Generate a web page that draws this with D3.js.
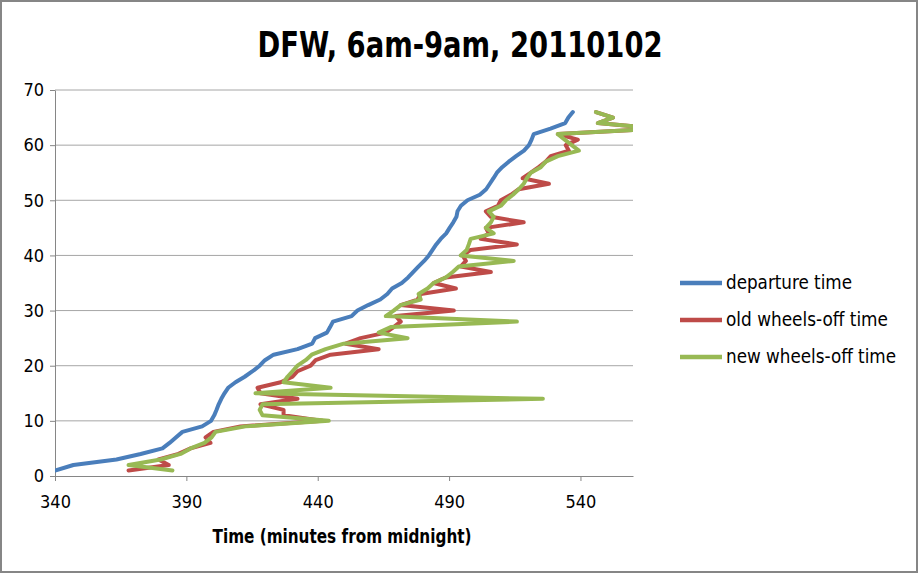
<!DOCTYPE html>
<html>
<head>
<meta charset="utf-8">
<script src="https://cdn.jsdelivr.net/npm/d3@7"></script>
<style>
  body { margin: 0; background: #fff; }
  svg text { font-family: "Liberation Sans Narrow", "DejaVu Sans Condensed", sans-serif; fill: #000; }
</style>
</head>
<body>
<div class="canvas"></div>
<script>
// flight number (cumulative count) on the y axis
const flightNo = [
  1, 2, 3, 4, 5, 6, 7, 8, 9, 10, 11, 12, 13, 14, 15, 16, 17, 18, 19, 20, 21, 22,
  23, 24, 25, 26, 27, 28, 29, 30, 31, 32, 33, 34, 35, 36, 37, 38, 39, 40, 41, 42, 43, 44,
  45, 46, 47, 48, 49, 50, 51, 52, 53, 54, 55, 56, 57, 58, 59, 60, 61, 62, 63, 64, 65, 66
];

// minutes from midnight
const departure = [
  340.0, 347.0, 363.4, 372.6, 380.9, 383.6, 386.0, 388.5, 396.0, 399.4,
  400.6, 401.5, 402.3, 403.3, 404.5, 405.9, 408.7, 412.2, 415.2, 417.9,
  419.9, 423.2, 432.3, 437.9, 439.0, 443.5, 444.7, 445.8, 452.9, 455.1,
  459.2, 463.8, 466.5, 468.3, 472.0, 474.4, 476.4, 478.4, 480.5, 482.3,
  483.7, 485.1, 486.8, 488.9, 490.2, 491.6, 492.8, 493.2, 494.5, 497.0,
  501.7, 504.1, 505.5, 506.9, 508.2, 510.2, 512.7, 515.5, 518.5, 520.4,
  521.4, 522.2, 528.6, 534.2, 535.4, 537.1
];

const oldWheelsOff = [
  368.0, 383.3, 379.4, 387.0, 391.6, 399.2, 397.3, 400.3, 410.6, 442.0,
  427.0, 427.0, 418.2, 432.3, 418.2, 417.1, 425.9, 430.4, 432.3, 437.3,
  439.2, 444.9, 463.2, 450.6, 456.3, 465.9, 468.9, 471.6, 469.7, 491.8,
  471.6, 478.0, 479.2, 492.6, 484.1, 488.7, 505.9, 494.5, 496.4, 495.2,
  498.2, 515.8, 502.0, 505.1, 504.0, 518.4, 505.9, 504.0, 508.6, 509.7,
  513.5, 516.5, 528.0, 518.0, 521.1, 524.1, 526.8, 528.7, 535.6, 534.4,
  539.0, 531.4, 570.6, 546.6, 552.4, 545.9
];

const newWheelsOff = [
  384.7, 368.0, 380.2, 387.8, 391.6, 396.9, 399.6, 401.1, 412.5, 444.2,
  419.0, 417.9, 419.0, 525.7, 416.3, 444.9, 427.0, 428.5, 430.4, 432.3,
  435.4, 437.7, 443.0, 449.9, 474.2, 463.2, 467.8, 515.8, 465.9, 468.9,
  471.6, 479.2, 478.4, 481.8, 484.1, 488.7, 491.4, 493.7, 514.6, 494.4,
  496.7, 497.5, 498.2, 507.0, 504.0, 505.9, 507.0, 505.1, 509.7, 511.6,
  514.3, 516.5, 518.4, 519.6, 521.1, 524.9, 526.8, 531.4, 539.4, 536.7,
  534.0, 531.4, 570.6, 546.6, 552.4, 545.9
];

const seriesNames = ['departure time', 'old wheels-off time', 'new wheels-off time'];
const seriesColors = ['#4a7ebb', '#be4b48', '#98b954'];
const xTicks = [340, 390, 440, 490, 540];
const yTicks = [0, 10, 20, 30, 40, 50, 60, 70];

const series = [departure, oldWheelsOff, newWheelsOff].map((vals, i) => ({
  name: seriesNames[i],
  color: seriesColors[i],
  points: vals.map((v, j) => ({ t: v, n: flightNo[j] }))
}));

const dims = { width: 920, height: 576 };
const plot = { left: 55, right: 633, top: 90, bottom: 476 };

const svg = d3.select('.canvas')
  .append('svg')
  .attr('width', dims.width)
  .attr('height', dims.height);

// outer chart border
svg.append('rect')
  .attr('x', 1).attr('y', 1)
  .attr('width', 916).attr('height', 571)
  .attr('fill', '#fff')
  .attr('stroke', '#868686')
  .attr('stroke-width', 2);

const x = d3.scaleLinear().domain([340, 560]).range([plot.left, plot.right]);
const y = d3.scaleLinear().domain([0, 70]).range([plot.bottom, plot.top]);

// gridlines
svg.append('g')
  .selectAll('line')
  .data(yTicks.slice(1))
  .enter().append('line')
    .attr('x1', plot.left).attr('x2', plot.right)
    .attr('y1', d => y(d)).attr('y2', d => y(d))
    .attr('stroke', '#a6a6a6')
    .attr('stroke-width', 1);

// axes
const xAxis = d3.axisBottom(x)
  .tickValues(xTicks)
  .tickSize(5)
  .tickSizeOuter(0)
  .tickPadding(14);

const yAxis = d3.axisLeft(y)
  .tickValues(yTicks)
  .tickSize(5)
  .tickSizeOuter(0)
  .tickPadding(6);

const xAxisGroup = svg.append('g')
  .attr('transform', `translate(0, ${plot.bottom})`)
  .call(xAxis);

const yAxisGroup = svg.append('g')
  .attr('transform', `translate(${plot.left}, 0)`)
  .call(yAxis);

[xAxisGroup, yAxisGroup].forEach(g => {
  g.select('.domain').attr('stroke', '#868686');
  g.selectAll('.tick line').attr('stroke', '#868686');
  g.selectAll('text').attr('font-size', 18).attr('fill', '#000');
});

// lines, clipped to the plot area
svg.append('clipPath')
  .attr('id', 'plot-clip')
  .append('rect')
    .attr('x', plot.left).attr('y', plot.top - 10)
    .attr('width', plot.right - plot.left)
    .attr('height', plot.bottom - plot.top + 10);

const line = d3.line()
  .x(d => x(d.t))
  .y(d => y(d.n));

svg.append('g')
  .attr('clip-path', 'url(#plot-clip)')
  .selectAll('path')
  .data(series)
  .enter().append('path')
    .attr('d', d => line(d.points))
    .attr('fill', 'none')
    .attr('stroke', d => d.color)
    .attr('stroke-width', 4)
    .attr('stroke-linejoin', 'round')
    .attr('stroke-linecap', 'round');

// title
svg.append('text')
  .attr('x', 460).attr('y', 57)
  .attr('text-anchor', 'middle')
  .attr('font-size', 35)
  .attr('font-weight', 'bold')
  .attr('textLength', 405)
  .attr('lengthAdjust', 'spacingAndGlyphs')
  .text('DFW, 6am-9am, 20110102');

// x axis title
svg.append('text')
  .attr('x', 342).attr('y', 543)
  .attr('text-anchor', 'middle')
  .attr('font-size', 19)
  .attr('font-weight', 'bold')
  .attr('textLength', 259)
  .attr('lengthAdjust', 'spacingAndGlyphs')
  .text('Time (minutes from midnight)');

// legend
const legendWidths = [126, 162, 170];
const legend = svg.append('g')
  .selectAll('g')
  .data(series)
  .enter().append('g')
    .attr('transform', (d, i) => `translate(680, ${283 + i * 37})`);

legend.append('line')
  .attr('x1', 0).attr('x2', 42)
  .attr('stroke', d => d.color)
  .attr('stroke-width', 4.5);

legend.append('text')
  .attr('x', 46).attr('y', 6)
  .attr('font-size', 19)
  .attr('textLength', (d, i) => legendWidths[i])
  .attr('lengthAdjust', 'spacingAndGlyphs')
  .text(d => d.name);
</script>
</body>
</html>
